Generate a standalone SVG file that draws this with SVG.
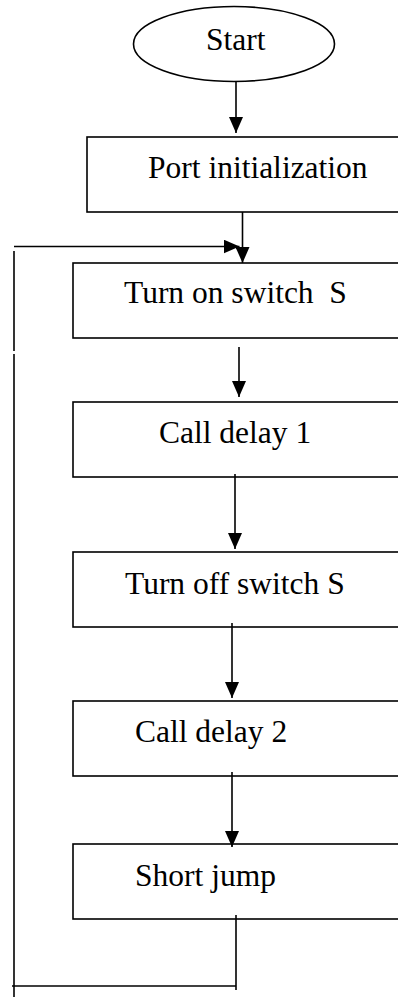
<svg xmlns="http://www.w3.org/2000/svg" width="398" height="997" viewBox="0 0 398 997">
<style>
.box{fill:#fff;stroke:#000;stroke-width:1.6}
.lbl{font-family:"Liberation Serif","Times New Roman",serif;font-size:31.5px;fill:#000;white-space:pre}
.ln{fill:none;stroke:#000;stroke-width:1.6}
</style>
<defs>
<marker id="ah" markerUnits="userSpaceOnUse" markerWidth="16" markerHeight="14" refX="16" refY="7" orient="auto">
<path d="M0,0 L16,7 L0,14 z" fill="#000"/>
</marker>
</defs>
<rect width="398" height="997" fill="#fff"/>
<g id="start">
<ellipse class="box" cx="234" cy="44" rx="100.5" ry="37.5"/>
<text class="lbl" x="206" y="50">Start</text>
</g>
<g id="port-init">
<rect class="box" x="87" y="137" width="320" height="75"/>
<text class="lbl" x="148" y="178">Port initialization</text>
</g>
<g id="turn-on">
<rect class="box" x="73" y="263" width="335" height="75"/>
<text class="lbl" x="124" y="303">Turn on switch  S</text>
</g>
<g id="delay1">
<rect class="box" x="73" y="402" width="335" height="75"/>
<text class="lbl" x="159" y="443">Call delay 1</text>
</g>
<g id="turn-off">
<rect class="box" x="73" y="552" width="335" height="75"/>
<text class="lbl" x="125" y="594">Turn off switch S</text>
</g>
<g id="delay2">
<rect class="box" x="73" y="701" width="335" height="75"/>
<text class="lbl" x="135" y="742">Call delay 2</text>
</g>
<g id="short-jump">
<rect class="box" x="73" y="844" width="335" height="75"/>
<text class="lbl" x="135" y="886">Short jump</text>
</g>
<g id="connectors">
<line class="ln" x1="236" y1="82" x2="236" y2="133" marker-end="url(#ah)"/>
<line class="ln" x1="242.5" y1="212" x2="242.5" y2="263" marker-end="url(#ah)"/>
<line class="ln" x1="14" y1="246.5" x2="239.5" y2="246.5" marker-end="url(#ah)"/>
<line class="ln" x1="14" y1="251" x2="14" y2="351"/>
<line class="ln" x1="14" y1="354" x2="14" y2="997"/>
<line class="ln" x1="236" y1="915" x2="236" y2="990"/>
<line class="ln" x1="12" y1="986" x2="236" y2="986"/>
<line class="ln" x1="239" y1="347" x2="239" y2="397" marker-end="url(#ah)"/>
<line class="ln" x1="235" y1="474" x2="235" y2="549" marker-end="url(#ah)"/>
<line class="ln" x1="232" y1="623" x2="232" y2="698" marker-end="url(#ah)"/>
<line class="ln" x1="232" y1="772" x2="232" y2="847" marker-end="url(#ah)"/>
</g>
</svg>
